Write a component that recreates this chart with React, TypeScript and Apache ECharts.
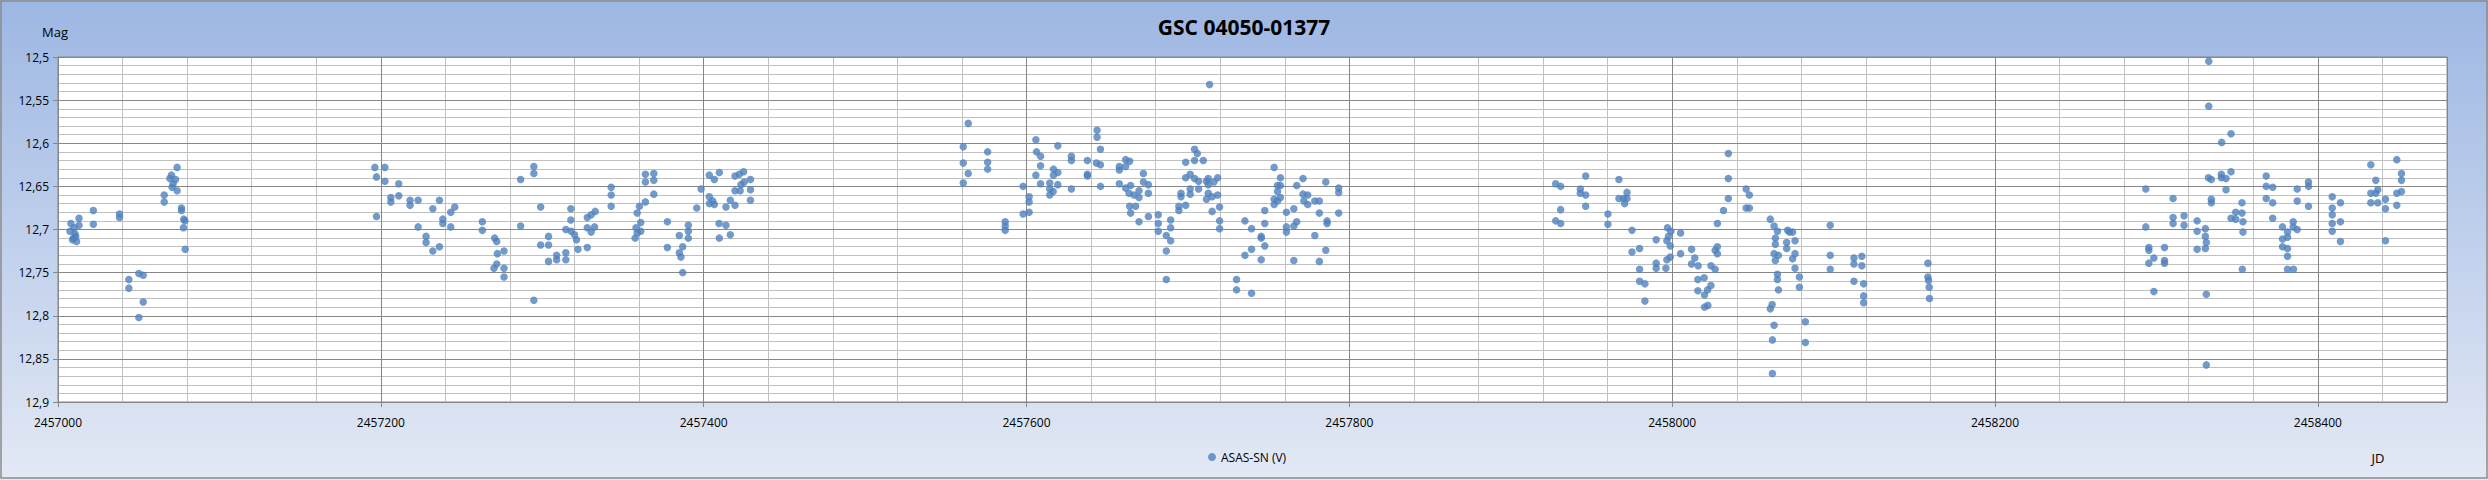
import React, { useEffect, useRef } from "react";
import * as echarts from "echarts";

const chartTitle = "GSC 04050-01377";
const seriesName = "ASAS-SN (V)";
const yAxisTitle = "Mag";
const xAxisTitle = "JD";

const season1JD = [2457008, 2457013, 2457013, 2457007.4, 2457010, 2457010.5, 2457009.5, 2457011.5, 2457009, 2457011, 2457021.9, 2457021.9, 2457038.1, 2457038.1, 2457043.9, 2457043.9, 2457050.1, 2457052.8, 2457052.8, 2457050.1, 2457065.8, 2457065.8, 2457073.8, 2457070.3, 2457069.3, 2457072.8, 2457071.3, 2457070.7, 2457073.8, 2457076.5, 2457076.5, 2457077.9, 2457078.6, 2457077.7, 2457078.8];
const season1Mag = [12.693, 12.687, 12.695, 12.702, 12.698, 12.705, 12.71, 12.714, 12.712, 12.708, 12.678, 12.694, 12.682, 12.686, 12.758, 12.768, 12.751, 12.753, 12.784, 12.802, 12.66, 12.668, 12.628, 12.637, 12.641, 12.642, 12.647, 12.651, 12.655, 12.675, 12.678, 12.688, 12.69, 12.698, 12.723];

const season2JD = [2457196.3, 2457202.5, 2457197.3, 2457202.5, 2457197.3, 2457211.1, 2457211.1, 2457206.2, 2457206.2, 2457218.1, 2457218.1, 2457223.1, 2457223.1, 2457232.2, 2457236.3, 2457238.4, 2457238.4, 2457243.3, 2457245.8, 2457243.3, 2457228, 2457228, 2457232.2, 2457236.3, 2457262.9, 2457262.9, 2457270.5, 2457271.8, 2457272.2, 2457276.3, 2457271.8, 2457270.1, 2457276.3, 2457276.3, 2457286.6, 2457294.8, 2457294.8, 2457286.6, 2457294.8, 2457299, 2457299, 2457303.9, 2457303.9, 2457303.9, 2457308.9, 2457308.9, 2457314.6, 2457314.6, 2457317.7, 2457317.7, 2457314.6, 2457317.9, 2457320, 2457321.2, 2457322.1, 2457327.9, 2457327.9, 2457330.3, 2457332.8, 2457327.9, 2457332.4, 2457330.3, 2457342.7, 2457342.7, 2457342.7, 2457358.8, 2457360.2, 2457363.9, 2457361, 2457358.1, 2457358.8, 2457357.5, 2457361, 2457363.9, 2457369.1, 2457363.9, 2457369.1, 2457369.1, 2457377.5, 2457377.5, 2457384.9, 2457387, 2457384.9, 2457385.9, 2457387, 2457390.5, 2457390.5, 2457390.5, 2457395.7, 2457398.4, 2457403.5, 2457406.6, 2457409.7, 2457403.5, 2457405.6, 2457403.5, 2457406.6, 2457409.5, 2457409.7, 2457413.8, 2457413.8, 2457416.5, 2457416.5, 2457419.4, 2457419.4, 2457419.4, 2457422.1, 2457424.7, 2457423.1, 2457425.1, 2457422.6, 2457429, 2457429, 2457429];
const season2Mag = [12.628, 12.628, 12.639, 12.644, 12.685, 12.647, 12.661, 12.663, 12.668, 12.666, 12.672, 12.666, 12.697, 12.676, 12.666, 12.688, 12.693, 12.68, 12.674, 12.697, 12.708, 12.715, 12.725, 12.72, 12.691, 12.701, 12.71, 12.714, 12.728, 12.725, 12.74, 12.745, 12.745, 12.755, 12.642, 12.627, 12.635, 12.696, 12.782, 12.674, 12.718, 12.708, 12.718, 12.737, 12.73, 12.735, 12.727, 12.735, 12.676, 12.689, 12.7, 12.702, 12.706, 12.712, 12.723, 12.721, 12.686, 12.683, 12.679, 12.698, 12.697, 12.703, 12.651, 12.66, 12.673, 12.681, 12.673, 12.668, 12.692, 12.698, 12.704, 12.71, 12.702, 12.636, 12.635, 12.645, 12.643, 12.659, 12.691, 12.721, 12.707, 12.72, 12.727, 12.732, 12.75, 12.695, 12.702, 12.71, 12.675, 12.653, 12.637, 12.642, 12.634, 12.662, 12.667, 12.67, 12.671, 12.693, 12.71, 12.674, 12.695, 12.666, 12.706, 12.638, 12.655, 12.672, 12.636, 12.633, 12.648, 12.645, 12.655, 12.642, 12.654, 12.666];

const season3JD = [2457563.9, 2457560.8, 2457560.8, 2457563.9, 2457560.8, 2457575.9, 2457575.9, 2457575.9, 2457586.8, 2457586.8, 2457586.8, 2457597.9, 2457601.6, 2457601.6, 2457597.9, 2457601.6, 2457605.8, 2457606.2, 2457608.7, 2457608.7, 2457605.8, 2457608.7, 2457619.4, 2457616.7, 2457619.4, 2457616.7, 2457614.4, 2457619.4, 2457614.4, 2457616.5, 2457614.4, 2457627.8, 2457627.8, 2457627.8, 2457637.7, 2457637.7, 2457637.7, 2457643.7, 2457643.7, 2457645.8, 2457643.3, 2457645.8, 2457645.8, 2457657.5, 2457657.5, 2457661.4, 2457663.9, 2457661.4, 2457657.5, 2457661.4, 2457664.5, 2457663.5, 2457666.6, 2457669.7, 2457669.7, 2457663.9, 2457667.6, 2457664.5, 2457669.7, 2457672.4, 2457672.4, 2457675.5, 2457675.5, 2457675.5, 2457681.6, 2457681.6, 2457681.6, 2457686.6, 2457689.3, 2457689.3, 2457689.3, 2457686.6, 2457686.6, 2457694.4, 2457694.4, 2457695.7, 2457695.7, 2457698.6, 2457698.6, 2457698.6, 2457701.4, 2457701.4, 2457701.4, 2457704.1, 2457705.8, 2457704.1, 2457704.1, 2457706.6, 2457706.6, 2457709.5, 2457713.4, 2457711.5, 2457712.6, 2457712.6, 2457712.6, 2457711.5, 2457715, 2457716.1, 2457718.4, 2457718.4, 2457719.6, 2457715, 2457719.6, 2457719.6, 2457730.1, 2457730.1, 2457735.3, 2457735.3, 2457739.4, 2457739.4, 2457739.4, 2457745.4, 2457745.4, 2457745.4, 2457747.6, 2457747.6, 2457747.6, 2457753.4, 2457757.3, 2457755.5, 2457757.3, 2457755.5, 2457753.4, 2457755.5, 2457753.4, 2457757.3, 2457761, 2457761, 2457761, 2457765.6, 2457767.4, 2457767.4, 2457765.6, 2457765.6, 2457771.3, 2457771.3, 2457774.2, 2457771.8, 2457774.2, 2457778.6, 2457781.4, 2457778.6, 2457781.4, 2457781.4, 2457785.4, 2457786.2, 2457786.2, 2457785.4, 2457793.4, 2457793.4, 2457793.4];
const season3Mag = [12.577, 12.604, 12.623, 12.635, 12.646, 12.61, 12.622, 12.63, 12.691, 12.696, 12.701, 12.65, 12.662, 12.668, 12.682, 12.68, 12.596, 12.61, 12.615, 12.626, 12.637, 12.647, 12.603, 12.63, 12.634, 12.637, 12.646, 12.648, 12.653, 12.656, 12.66, 12.615, 12.62, 12.653, 12.62, 12.636, 12.638, 12.585, 12.593, 12.607, 12.623, 12.625, 12.65, 12.627, 12.631, 12.619, 12.621, 12.627, 12.647, 12.652, 12.649, 12.658, 12.66, 12.655, 12.663, 12.673, 12.673, 12.681, 12.691, 12.635, 12.645, 12.648, 12.658, 12.685, 12.683, 12.693, 12.702, 12.707, 12.689, 12.698, 12.713, 12.725, 12.758, 12.673, 12.678, 12.658, 12.662, 12.622, 12.64, 12.672, 12.636, 12.653, 12.659, 12.607, 12.612, 12.62, 12.641, 12.644, 12.653, 12.62, 12.532, 12.644, 12.641, 12.648, 12.658, 12.665, 12.662, 12.645, 12.64, 12.66, 12.674, 12.679, 12.69, 12.699, 12.758, 12.77, 12.69, 12.73, 12.699, 12.723, 12.774, 12.708, 12.71, 12.735, 12.678, 12.693, 12.719, 12.628, 12.64, 12.649, 12.649, 12.656, 12.665, 12.667, 12.671, 12.663, 12.68, 12.697, 12.703, 12.676, 12.649, 12.691, 12.696, 12.736, 12.641, 12.659, 12.66, 12.667, 12.671, 12.667, 12.667, 12.707, 12.681, 12.737, 12.645, 12.69, 12.693, 12.724, 12.652, 12.657, 12.681];

const season4JD = [2457927.8, 2457930.9, 2457930.9, 2457927.8, 2457930.9, 2457946.4, 2457943.1, 2457943.1, 2457946.4, 2457946.4, 2457960.2, 2457960.2, 2457967, 2457967, 2457969.9, 2457972, 2457972, 2457970.5, 2457975.1, 2457975.1, 2457979.8, 2457979.8, 2457979.8, 2457983.1, 2457983.1, 2457990.1, 2457990.1, 2457990.1, 2457996.1, 2457997.1, 2457999.2, 2457996.7, 2457998.8, 2457997.7, 2457996.7, 2457998.8, 2458005.2, 2458005.2, 2458012, 2458014, 2458012, 2458016.1, 2458015.9, 2458019.8, 2458015.9, 2458020, 2458021.9, 2458024, 2458022.1, 2458020, 2458024, 2458026.6, 2458028, 2458028, 2458026.6, 2458028, 2458031.8, 2458034.8, 2458034.8, 2458034.8, 2458045.8, 2458047.8, 2458045.8, 2458047.8, 2458060.8, 2458063.1, 2458065.2, 2458063.9, 2458063.9, 2458063.1, 2458065.8, 2458063.9, 2458065.2, 2458065.2, 2458065.8, 2458061.9, 2458060.8, 2458063.1, 2458062.1, 2458062.1, 2458071.5, 2458072.6, 2458074.6, 2458076.1, 2458070.9, 2458070.9, 2458076.1, 2458074.6, 2458076.1, 2458078.8, 2458078.8, 2458082.5, 2458082.5, 2458097.9, 2458097.9, 2458097.9, 2458112.6, 2458112.6, 2458112.6, 2458117.5, 2458117.5, 2458118.6, 2458118.6, 2458118.6, 2458158.4, 2458158.4, 2458158.8, 2458159.2, 2458159.4];
const season4Mag = [12.647, 12.65, 12.677, 12.69, 12.693, 12.638, 12.653, 12.658, 12.66, 12.673, 12.682, 12.694, 12.642, 12.664, 12.664, 12.657, 12.664, 12.67, 12.701, 12.726, 12.722, 12.746, 12.76, 12.763, 12.783, 12.712, 12.739, 12.745, 12.745, 12.698, 12.702, 12.713, 12.719, 12.708, 12.735, 12.732, 12.704, 12.728, 12.723, 12.733, 12.74, 12.742, 12.758, 12.756, 12.771, 12.776, 12.77, 12.765, 12.788, 12.79, 12.742, 12.746, 12.72, 12.728, 12.724, 12.693, 12.678, 12.664, 12.641, 12.612, 12.653, 12.66, 12.675, 12.675, 12.688, 12.696, 12.702, 12.71, 12.717, 12.728, 12.73, 12.736, 12.752, 12.758, 12.77, 12.787, 12.792, 12.811, 12.828, 12.867, 12.701, 12.703, 12.703, 12.713, 12.715, 12.722, 12.728, 12.734, 12.745, 12.755, 12.767, 12.807, 12.831, 12.695, 12.73, 12.746, 12.733, 12.74, 12.76, 12.731, 12.742, 12.763, 12.777, 12.785, 12.739, 12.755, 12.759, 12.767, 12.78];

const season5JD = [2458293.4, 2458293.4, 2458295.3, 2458295.3, 2458298.4, 2458295.3, 2458298.4, 2458305, 2458305, 2458305, 2458310.3, 2458310.3, 2458310.3, 2458317.1, 2458317.1, 2458325.2, 2458325.2, 2458325.2, 2458330.3, 2458330.3, 2458330.9, 2458330.3, 2458330.9, 2458330.9, 2458332.4, 2458332.4, 2458332.2, 2458334, 2458334, 2458334, 2458340.4, 2458346.2, 2458346.2, 2458340.2, 2458340.2, 2458343.1, 2458343.1, 2458346.2, 2458349.1, 2458353, 2458349.1, 2458353.6, 2458353, 2458353.6, 2458353.2, 2458368, 2458368, 2458372, 2458368, 2458372, 2458372, 2458378.1, 2458381.2, 2458381.2, 2458378.1, 2458378.1, 2458381.2, 2458381.2, 2458381.2, 2458384.9, 2458384.7, 2458384.7, 2458387.2, 2458387.2, 2458387.2, 2458394.2, 2458394.2, 2458394.2, 2458408.9, 2458408.9, 2458408.9, 2458408.9, 2458408.9, 2458414, 2458414, 2458414, 2458432.8, 2458435.9, 2458437.1, 2458432.8, 2458432.8, 2458437.1, 2458435.9, 2458441.9, 2458441.9, 2458441.9, 2458448.9, 2458451.8, 2458451.8, 2458448.9, 2458451.8, 2458448.9];
const season5Mag = [12.653, 12.697, 12.721, 12.724, 12.733, 12.739, 12.772, 12.721, 12.736, 12.739, 12.664, 12.686, 12.693, 12.684, 12.695, 12.69, 12.702, 12.723, 12.699, 12.708, 12.715, 12.722, 12.775, 12.857, 12.505, 12.557, 12.64, 12.642, 12.665, 12.669, 12.599, 12.589, 12.633, 12.636, 12.64, 12.641, 12.654, 12.687, 12.68, 12.681, 12.688, 12.691, 12.669, 12.703, 12.746, 12.638, 12.65, 12.651, 12.664, 12.669, 12.687, 12.697, 12.703, 12.709, 12.711, 12.72, 12.722, 12.731, 12.746, 12.746, 12.691, 12.697, 12.653, 12.667, 12.7, 12.645, 12.65, 12.673, 12.662, 12.675, 12.683, 12.693, 12.702, 12.669, 12.691, 12.714, 12.625, 12.643, 12.654, 12.658, 12.669, 12.669, 12.658, 12.665, 12.676, 12.713, 12.619, 12.635, 12.643, 12.658, 12.656, 12.672];

const xMin = 2457000;
const xMax = 2458480;
const xMajorStep = 200;
const xMinorStep = 40;
const yMin = 12.5;
const yMax = 12.9;
const yMajorStep = 0.05;

const allJD = [season1JD, season2JD, season3JD, season4JD, season5JD];
const allMag = [season1Mag, season2Mag, season3Mag, season4Mag, season5Mag];

function buildPoints(): number[][] {
  const pts: number[][] = [];
  allJD.forEach((jds, s) => {
    const mags = allMag[s];
    jds.forEach((jd, i) => pts.push([jd, mags[i]]));
  });
  return pts;
}

const FONT = '"Open Sans", "Liberation Sans", sans-serif';
const MAJOR = "#878787";
const MINOR = "#C0C0C0";

export default function App() {
  const ref = useRef<HTMLDivElement>(null);
  useEffect(() => {
    document.body.style.margin = "0";
    if (!ref.current) return;
    const chart = echarts.init(ref.current, null, { renderer: "svg" });
    const option: any = {
      animation: false,
      backgroundColor: new echarts.graphic.LinearGradient(0, 0, 0, 1, [
        { offset: 0, color: "#9DB7E3" },
        { offset: 1, color: "#E3E9F5" },
      ]),
      textStyle: { fontFamily: FONT },
      title: {
        text: chartTitle,
        left: "center",
        top: 16,
        padding: 0,
        textStyle: { fontSize: 21, fontWeight: "bold", color: "#000", fontFamily: FONT },
      },
      legend: {
        data: [seriesName],
        left: 1203,
        top: 446,
        icon: "circle",
        itemWidth: 8,
        itemHeight: 8,
        textStyle: { fontSize: 12, color: "#000", fontFamily: FONT },
      },
      grid: {
        left: 58,
        top: 57,
        right: 41,
        bottom: 78,
        show: true,
        backgroundColor: "#FFFFFF",
        borderColor: MAJOR,
        borderWidth: 1,
      },
      xAxis: [
        {
          type: "value",
          position: "bottom",
          min: xMin,
          max: xMax,
          interval: xMinorStep,
          z: 0,
          axisLine: { show: false },
          axisTick: { show: false },
          axisLabel: { show: false },
          splitLine: { show: true, lineStyle: { color: MINOR, width: 1 } },
        },
        {
          type: "value",
          position: "bottom",
          min: xMin,
          max: xMax,
          interval: xMajorStep,
          z: 1,
          axisLine: { show: true, onZero: false, lineStyle: { color: MAJOR } },
          axisTick: { show: true, length: 5, lineStyle: { color: MAJOR } },
          axisLabel: {
            show: true,
            showMaxLabel: false,
            margin: 14,
            fontSize: 12,
            color: "#000",
            fontFamily: FONT,
            formatter: (v: number) => String(Math.round(v)),
          },
          splitLine: { show: true, lineStyle: { color: MAJOR, width: 1 } },
        },
      ],
      yAxis: [
        {
          type: "value",
          inverse: true,
          min: yMin,
          max: yMax,
          interval: yMajorStep,
          z: 1,
          axisLine: { show: true, onZero: false, lineStyle: { color: MAJOR } },
          axisTick: { show: true, length: 5, lineStyle: { color: MAJOR } },
          axisLabel: {
            margin: 9,
            fontSize: 12,
            color: "#000",
            fontFamily: FONT,
            formatter: (v: number) => v.toFixed(2).replace(/0$/, "").replace(".", ","),
          },
          splitLine: { show: true, lineStyle: { color: MAJOR, width: 1 } },
          minorTick: { show: false, splitNumber: 5 },
          minorSplitLine: { show: true, lineStyle: { color: MINOR, width: 1 } },
        },
      ],
      series: [
        {
          name: seriesName,
          type: "scatter",
          xAxisIndex: 1,
          yAxisIndex: 0,
          symbol: "circle",
          symbolSize: 7.5,
          itemStyle: { color: "#4F81BD" },
          data: buildPoints(),
          z: 3,
        },
      ],
      graphic: [
        {
          type: "rect",
          silent: true,
          z: 100,
          shape: { x: 1, y: 1, width: 2486, height: 477 },
          style: { fill: "none", stroke: "#8C8C8C", lineWidth: 1.5 },
        },
        {
          type: "text",
          silent: true,
          x: 55,
          y: 32,
          style: { text: yAxisTitle, align: "center", verticalAlign: "middle", font: `13px ${FONT}`, fill: "#000" },
        },
        {
          type: "text",
          silent: true,
          x: 2378,
          y: 458,
          style: { text: xAxisTitle, align: "center", verticalAlign: "middle", font: `13px ${FONT}`, fill: "#000" },
        },
      ],
    };
    chart.setOption(option);
    return () => chart.dispose();
  }, []);
  return <div ref={ref} style={{ width: 2488, height: 480 }} />;
}
